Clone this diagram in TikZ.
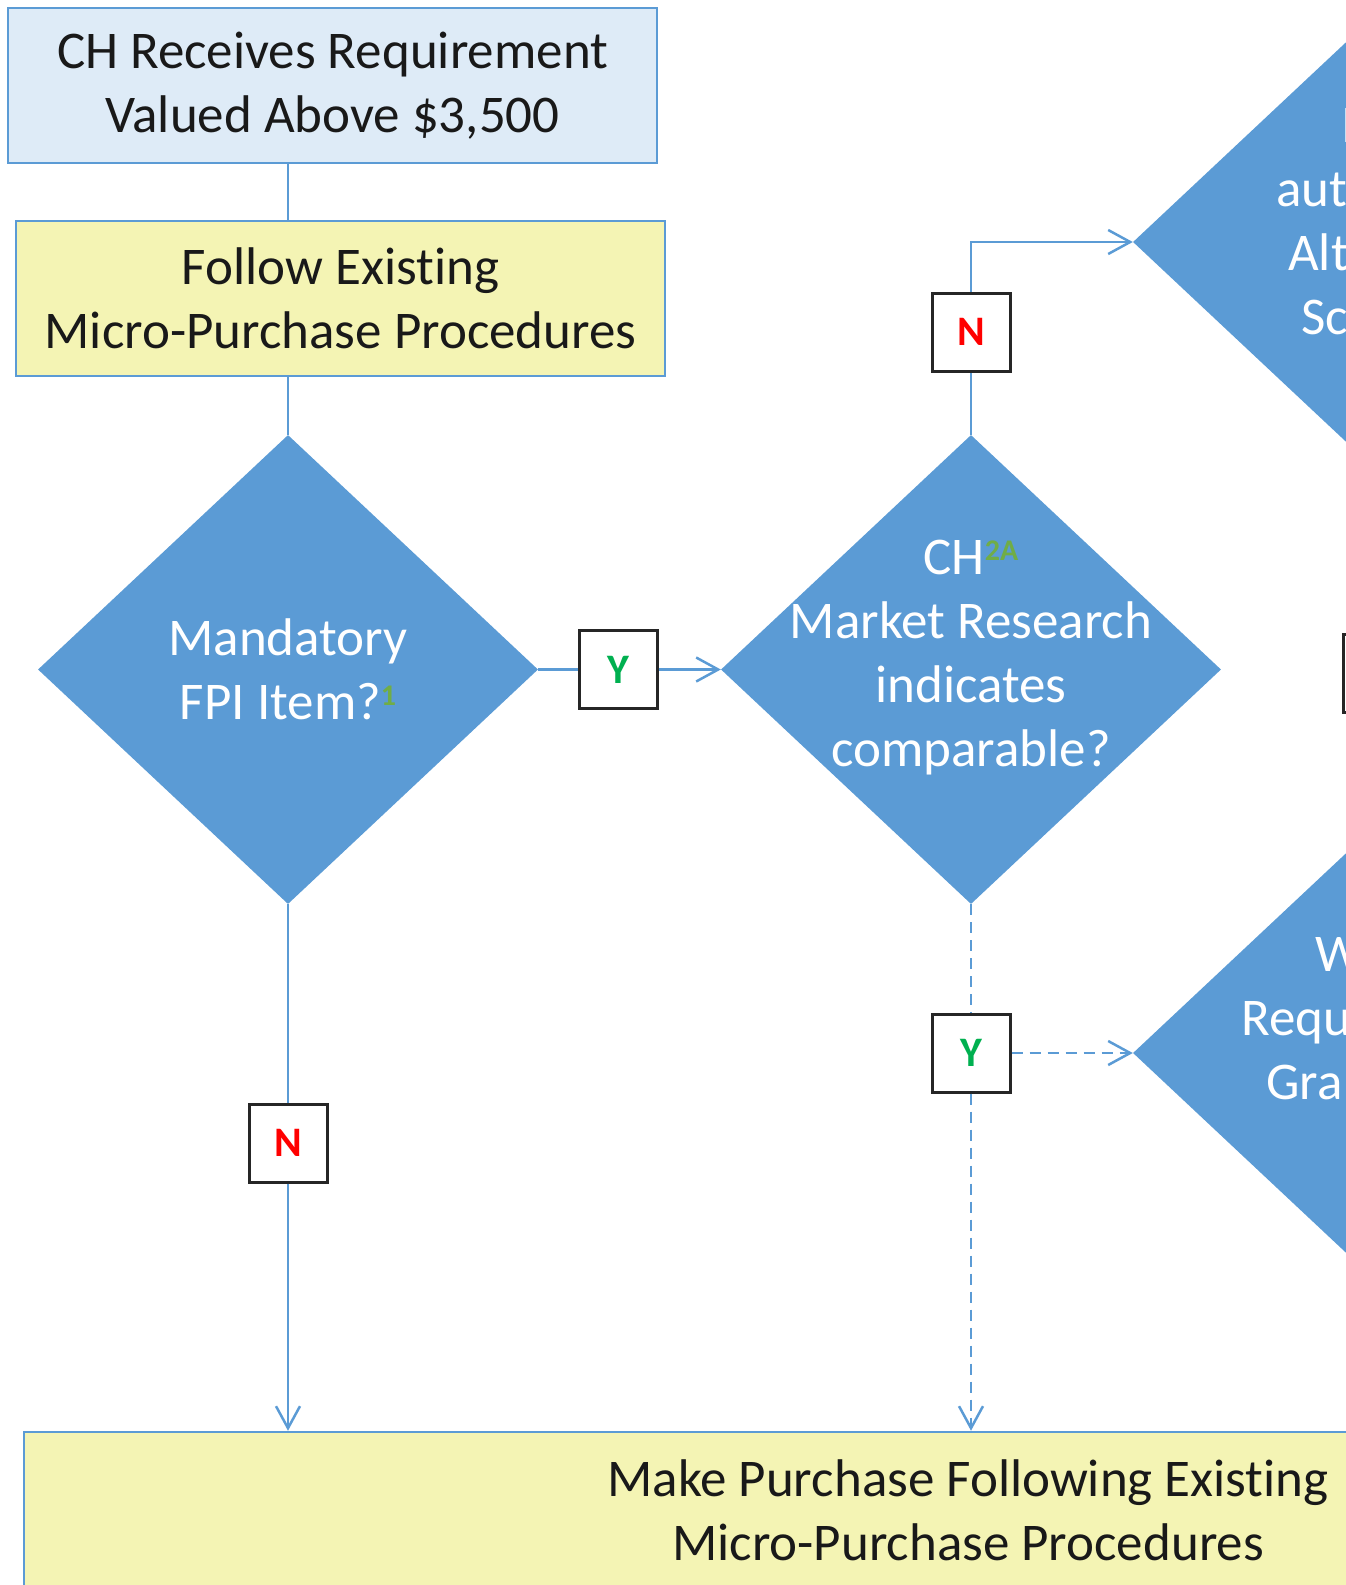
\documentclass[tikz,border=0pt]{standalone}
\usepackage{fontspec}
\setmainfont{Carlito}[Ligatures = NoCommon]
\usepackage{tikz}
\usetikzlibrary{shapes, arrows.meta}
\usetikzlibrary{positioning}
\definecolor{linkblue}{HTML}{5B9BD5}
\definecolor{topfill}{HTML}{DEEBF7}
\definecolor{procfill}{HTML}{F4F4B4}
\definecolor{yesgreen}{HTML}{00B050}
\definecolor{nored}{HTML}{FF0000}
\definecolor{notegreen}{HTML}{70AD47}
\newcommand{\supnote}[1]{\raisebox{14pt}{\color{notegreen}\fontsize{30}{30}\selectfont\bfseries #1}}
\tikzstyle{box} = [rectangle, minimum width = 649, minimum height = 155,
  draw = linkblue, line width = 2.5, text = black!90, text centered,
  align = center, font = \fontsize{53}{64}\selectfont]
\tikzstyle{startbox} = [box, fill = topfill]
\tikzstyle{procbox} = [box, fill = procfill]
\tikzstyle{dec} = [
  diamond, fill = linkblue, inner sep = 0,
  minimum width = 500, minimum height = 469
]
\tikzstyle{dectext} = [text = white, align = center, inner sep = 0,
  font = \fontsize{53}{64}\selectfont]
\tikzstyle{ans} = [rectangle, minimum width = 78, minimum height = 78,
  draw = black!85, line width = 3, fill = white,
  font = \fontsize{42}{42}\selectfont\bfseries]
\tikzstyle{link} = [draw = linkblue, line width = 2.5]
\tikzstyle{dashlink} = [link, dash pattern = on 11pt off 7pt]

\begin{document}
\begin{tikzpicture}[node distance = 0,
    >={Straight Barb[length = 22pt, width = 24pt]}]
  \path [use as bounding box, clip] (0, 0) rectangle (1346pt, -1585pt);
  % start
  \node [startbox] (rcv) at (332.5pt, -85.5pt) {CH Receives Requirement\\Valued Above \$3,500};
  \node [procbox, below of = rcv, xshift = 8, yshift = -213] (follow) {Follow Existing\\Micro-Purchase Procedures};
  % fpi item
  \node [dec, below of = follow, xshift = -52.5, yshift = -371] (fpi) {};
  \node [dectext, below of = fpi] (fpi-t) {Mandatory\\FPI Item?\supnote{1}};
  \node [ans, right of = fpi, xshift = 330, text = yesgreen] (fpi-y) {Y};
  \node [ans, below of = fpi, yshift = -473.5, text = nored] (fpi-n) {N};
  % comparable
  \node [dec, right of = fpi, xshift = 683] (comp) {};
  \node [dectext, above of = comp, yshift = 12] (comp-t) {CH\supnote{2A}\\Market Research\\indicates\\comparable?};
  \node [ans, above of = comp, yshift = 337.5, text = nored] (comp-n) {N};
  \node [ans, below of = comp, yshift = -383.5, text = yesgreen] (comp-y) {Y};
  % alternate source
  \node [dec, right of = comp, xshift = 412, yshift = 427.5] (alt) {};
  \node [dectext, right of = alt, xshift = -42, yshift = 100, anchor = base west] (alt-1) {I};
  \node [dectext, right of = alt, xshift = -107, yshift = 36, anchor = base west] (alt-2) {aut};
  \node [dectext, right of = alt, xshift = -95, yshift = -28, anchor = base west] (alt-3) {Alt};
  \node [dectext, right of = alt, xshift = -82, yshift = -92, anchor = base west] (alt-4) {Sc};
  \node [ans, below of = alt, xshift = -1, yshift = -431] (alt-a) {};
  % waiver
  \node [dec, right of = comp-y, xshift = 412] (waiv) {};
  \node [dectext, right of = waiv, xshift = -68, yshift = 82, anchor = base west] (waiv-1) {W};
  \node [dectext, right of = waiv, xshift = -142, yshift = 18, anchor = base west] (waiv-2) {Requ};
  \node [dectext, right of = waiv, xshift = -117, yshift = -46, anchor = base west] (waiv-3) {Gra};
  % purchase
  \node [procbox, below of = comp-y, xshift = -3, yshift = -457,
    minimum width = 1888, minimum height = 156] (make) {Make Purchase Following Existing\\Micro-Purchase Procedures};

  \draw [link] (fpi |- rcv.south) -- (fpi |- follow.north);
  \draw [link] (fpi |- follow.south) -- (fpi.north);
  \draw [link] (fpi.east) -- (fpi-y);
  \draw [link, ->] (fpi-y) -- (comp.west);
  \draw [link] (fpi.south) -- (fpi-n);
  \draw [link, ->] (fpi-n) -- (fpi-n |- make.north);
  \draw [link] (comp.north) -- (comp-n);
  \draw [link, ->] (comp-n) |- (alt.west);
  \draw [dashlink] (comp.south) -- (comp-y);
  \draw [dashlink, ->] (comp-y) -- (waiv.west);
  \draw [dashlink, ->] (comp-y) -- (comp-y |- make.north);
\end{tikzpicture}
\end{document}
